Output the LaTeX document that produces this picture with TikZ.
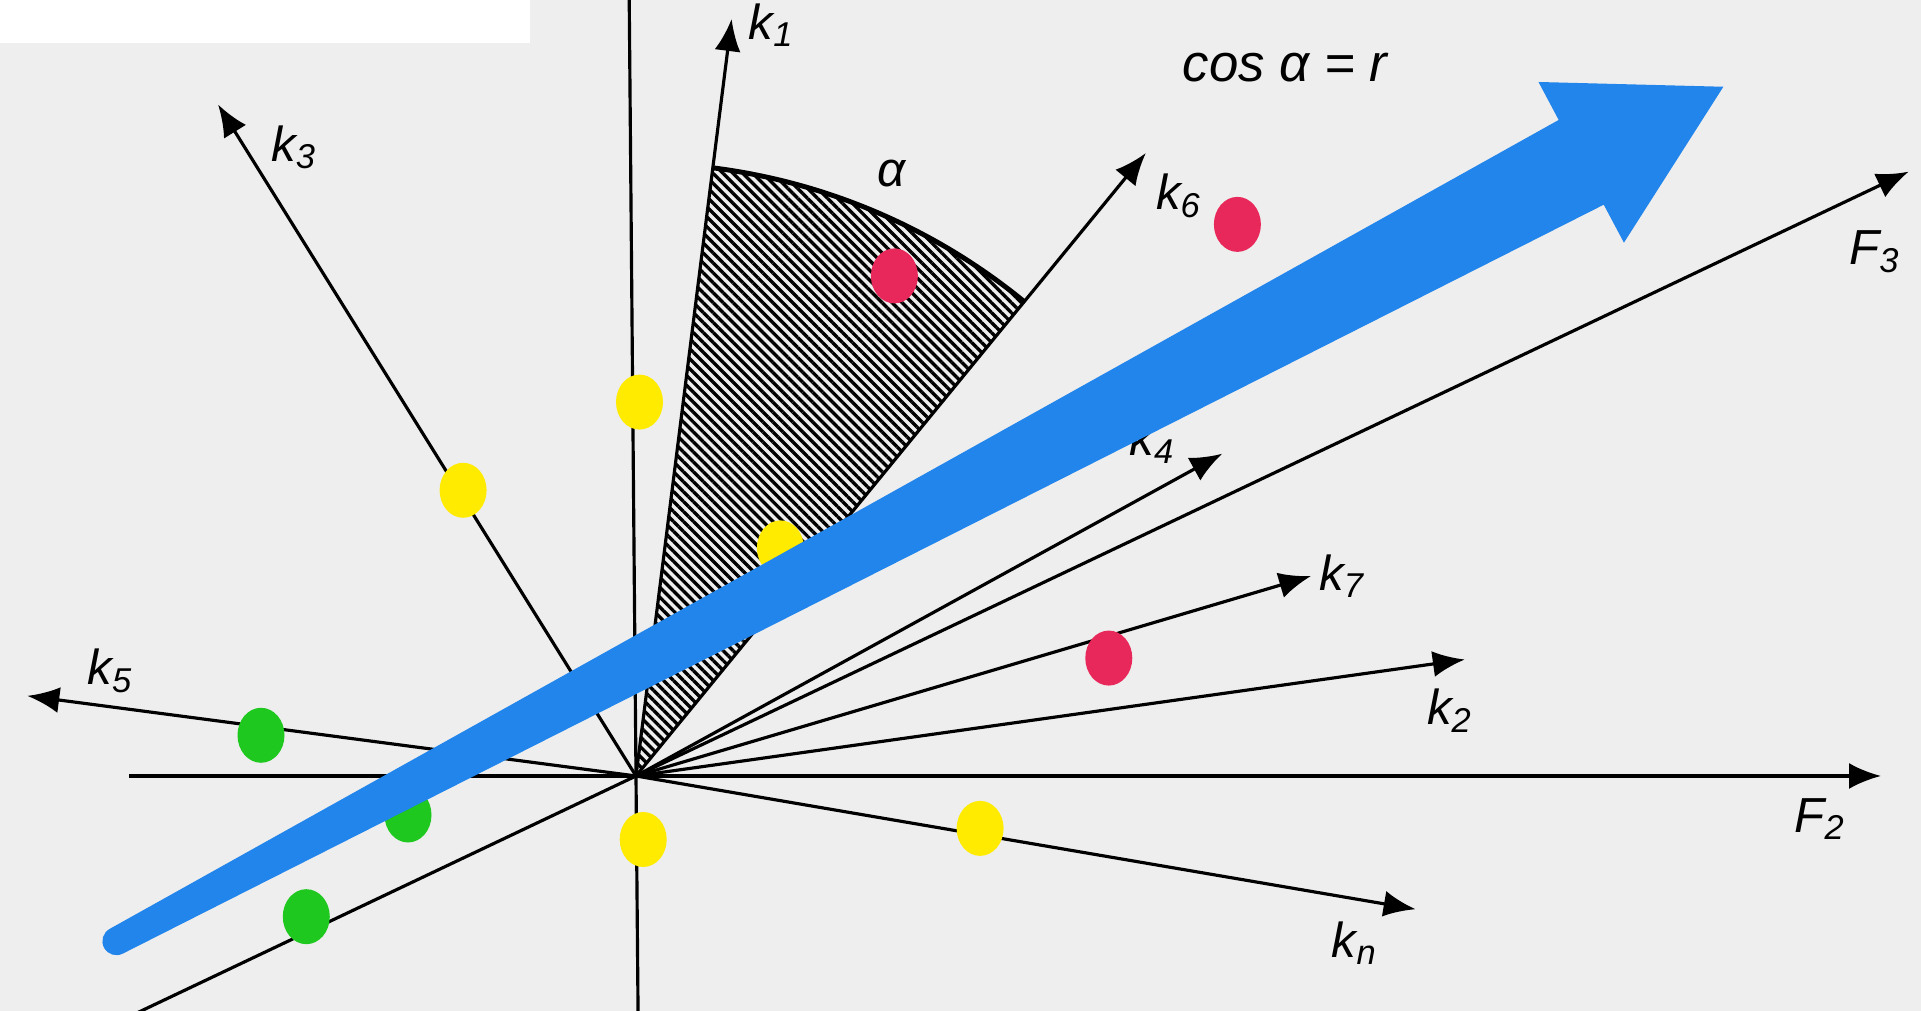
\documentclass[tikz,border=0pt]{standalone}
\usepackage{fontspec}
\setmainfont{Liberation Sans}
\usetikzlibrary{arrows.meta, positioning, calc, shapes.geometric, patterns.meta}
\definecolor{paper}{RGB}{238,238,238}
\definecolor{arrowblue}{RGB}{33,133,235}
\definecolor{dotyellow}{RGB}{255,235,0}
\definecolor{dotred}{RGB}{232,40,90}
\definecolor{dotgreen}{RGB}{30,200,30}
\newcommand{\kk}[1]{{\itshape k\textsubscript{#1}}}
\newcommand{\FF}[1]{{\itshape F\textsubscript{#1}}}
\tikzset{
  vec/.style={-{Latex[length=3.2mm,width=2.6mm]}, line width=0.9pt},
  axis/.style={line width=0.9pt},
  lbl/.style={font=\fontsize{14}{16}\selectfont, inner sep=1pt},
  dot/.style={ellipse, minimum width=0.47cm, minimum height=0.55cm,
              inner sep=0pt, draw=none}
}

\begin{document}
\begin{tikzpicture}
  % paper
  \fill[paper] (0,0) rectangle (19.21,10.11);
  \fill[white] (0,9.68) rectangle (5.3,10.11);
  \useasboundingbox (0,0) rectangle (19.21,10.11);

  \coordinate (O) at (6.36,2.35);

  % hatched sector
  \fill[pattern={Lines[angle=-45, distance=2pt, line width=0.95pt]}]
    (O) -- ++(82.8:6.13) arc[start angle=82.8, end angle=50.7, radius=6.13] -- cycle;
  \draw[line width=1.4pt] (O) ++(82.8:6.13)
    arc[start angle=82.8, end angle=50.7, radius=6.13];

  % factor axes
  \draw[axis] (O) -- ++(90.5:7.8) coordinate (F1);
  \draw[axis] (O) -- ++(-89.5:2.4) coordinate (F1b);
  \draw[axis] (O) -- ++(180:5.07) coordinate (F2b);
  \draw[vec]  (O) -- ++(0:12.45) coordinate (F2);
  \draw[axis] (O) -- ++(205.4:5.6) coordinate (F3b);
  \draw[vec]  (O) -- ++(25.4:14.09) coordinate (F3);

  \foreach \n/\a/\l in {k1/82.8/7.63, k3/121.9/7.91, k6/50.7/8.05, k4/28.8/6.69,
                        k7/16.5/7.04, k2/8.0/8.37, kn/-9.7/7.91, k5/172.5/6.14}
    \draw[vec] (O) -- ++(\a:\l) coordinate (\n);

  % labels
  \foreach \n/\dx/\dy/\t in {k1/0.40/-0.06/1, k3/0.76/-0.43/3, k6/0.33/-0.43/6,
                             k4/-0.70/0.12/4, k7/0.31/0/7, k2/-0.15/-0.51/2,
                             k5/0.83/0.25/5}
    \node[lbl] (\n lbl) at ([shift={(\dx,\dy)}]\n) {\kk{\t}};
  \node[lbl] (knlbl) at ([shift={(-0.61,-0.34)}]kn) {\kk{\textit{n}}};
  \node[lbl] (F2lbl) at ([shift={(-0.61,-0.43)}]F2) {\FF{2}};
  \node[lbl] (F3lbl) at ([shift={(-0.34,-0.80)}]F3) {\FF{3}};
  \node[lbl] (alpha) at ($(O)+(67:6.55)$) {\textit{α}};
  \node[lbl, font=\fontsize{15}{18}\selectfont] (cosr) at (12.86,9.43)
    {\textit{cos α = r}};

  % objects
  \foreach \c/\x/\y [count=\i] in {dotyellow/6.395/6.089, dotyellow/4.631/5.207,
      dotyellow/7.804/4.631, dotyellow/6.432/1.715, dotyellow/9.801/1.826,
      dotred/8.944/7.351, dotred/12.374/7.866, dotred/11.088/3.529,
      dotgreen/2.610/2.757, dotgreen/4.080/1.960, dotgreen/3.063/0.943}
    \node[dot, fill=\c] (dot\i) at (\x,\y) {};

  % regression arrow
  \begin{scope}[shift={(1.164,0.698)}, rotate=28]
    \fill[arrowblue] (0,0.14) -- (16.59,0.48) -- (16.59,0.91) -- (18.20,0)
      -- (16.59,-0.91) -- (16.59,-0.48) -- (0,-0.14)
      arc[start angle=-90, end angle=-270, radius=0.14] -- cycle;
  \end{scope}
\end{tikzpicture}
\end{document}
